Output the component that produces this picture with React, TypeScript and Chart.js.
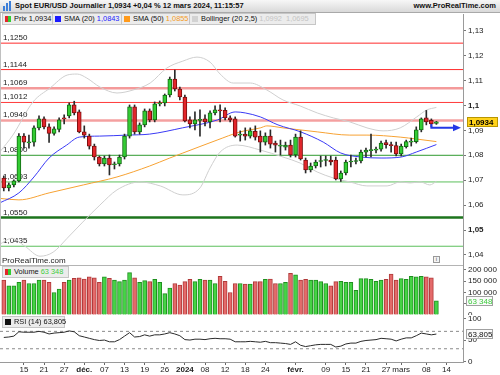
import React, { useEffect, useRef } from "react";
import { Chart, registerables } from "chart.js";
Chart.register(...registerables);

const FONT = '"Liberation Sans", Arial, Helvetica, sans-serif';

// ---- Daily candles, 9 Nov 2023 .. 12 Mar 2024 (index = trading day) ----
const opens = [1.0709,1.0669,1.0681,1.0697,1.0877,1.0850,1.0853,1.0910,1.0946,1.0914,1.0888,1.0904,1.0950,1.0958,1.1002,1.0974,1.0894,1.0877,1.0837,1.0793,1.0765,1.0789,1.0762,1.0765,1.0793,1.0877,1.0994,1.0894,1.0922,1.0978,1.0942,1.1006,1.1010,1.1042,1.1106,1.1066,1.1034,1.0942,1.0926,1.0940,1.0946,1.0934,1.0970,1.0982,1.0980,1.0950,1.0946,1.0881,1.0885,1.0877,1.0896,1.0877,1.0853,1.0877,1.0849,1.0837,1.0833,1.0841,1.0801,1.0873,1.0781,1.0741,1.0757,1.0775,1.0779,1.0781,1.0781,1.0705,1.0729,1.0773,1.0775,1.0777,1.0813,1.0819,1.0821,1.0825,1.0851,1.0843,1.0839,1.0805,1.0835,1.0853,1.0855,1.0902,1.0950,1.0940,1.0928];
const highs = [1.0717,1.0689,1.0701,1.0887,1.0887,1.0881,1.0918,1.0958,1.0954,1.0926,1.0914,1.0950,1.0962,1.1010,1.1017,1.0982,1.0918,1.0885,1.0845,1.0797,1.0797,1.0801,1.0773,1.0801,1.0885,1.1002,1.1002,1.0930,1.0986,1.0986,1.1014,1.1018,1.1046,1.1114,1.1142,1.1074,1.1042,1.0954,1.0974,1.0982,1.0962,1.0978,1.0998,1.1002,1.0990,1.0958,1.0954,1.0898,1.0910,1.0910,1.0918,1.0898,1.0890,1.0902,1.0857,1.0861,1.0853,1.0861,1.0885,1.0898,1.0789,1.0769,1.0781,1.0797,1.0797,1.0797,1.0793,1.0737,1.0781,1.0801,1.0789,1.0821,1.0829,1.0885,1.0833,1.0857,1.0861,1.0853,1.0853,1.0845,1.0861,1.0869,1.0914,1.0950,1.0980,1.0946,1.0936];
const lows = [1.0657,1.0657,1.0673,1.0693,1.0829,1.0829,1.0837,1.0902,1.0906,1.0852,1.0881,1.0894,1.0926,1.0950,1.0962,1.0890,1.0869,1.0825,1.0781,1.0757,1.0757,1.0721,1.0745,1.0757,1.0785,1.0869,1.0885,1.0885,1.0914,1.0934,1.0934,1.0998,1.0998,1.1034,1.1058,1.1022,1.0934,1.0910,1.0902,1.0877,1.0918,1.0910,1.0962,1.0934,1.0942,1.0934,1.0873,1.0857,1.0861,1.0869,1.0861,1.0813,1.0841,1.0829,1.0813,1.0801,1.0821,1.0793,1.0793,1.0781,1.0729,1.0733,1.0749,1.0753,1.0757,1.0761,1.0701,1.0695,1.0721,1.0753,1.0765,1.0769,1.0793,1.0793,1.0809,1.0817,1.0829,1.0813,1.0797,1.0797,1.0829,1.0837,1.0849,1.0894,1.0922,1.0914,1.0924];
const closes = [1.0669,1.0681,1.0697,1.0877,1.0853,1.0854,1.0910,1.0946,1.0914,1.0888,1.0906,1.0942,1.0946,1.1002,1.0970,1.0894,1.0881,1.0837,1.0793,1.0765,1.0789,1.0761,1.0765,1.0793,1.0877,1.0994,1.0894,1.0922,1.0978,1.0942,1.1006,1.1010,1.1042,1.1106,1.1066,1.1034,1.0938,1.0926,1.0942,1.0944,1.0934,1.0970,1.0982,1.0978,1.0950,1.0942,1.0877,1.0883,1.0877,1.0898,1.0873,1.0853,1.0877,1.0845,1.0841,1.0839,1.0841,1.0801,1.0873,1.0785,1.0741,1.0757,1.0773,1.0777,1.0781,1.0773,1.0705,1.0729,1.0773,1.0775,1.0777,1.0813,1.0821,1.0821,1.0823,1.0849,1.0843,1.0839,1.0805,1.0837,1.0855,1.0855,1.0902,1.0946,1.0934,1.0926,1.0934];

const volumes = [155000,130000,130000,145000,155000,140000,140000,155000,155000,145000,100000,115000,145000,155000,163000,165000,160000,170000,165000,145000,170000,163000,155000,148000,155000,188000,165000,145000,153000,148000,158000,145000,95000,120000,140000,133000,148000,158000,148000,158000,155000,155000,140000,172000,150000,100000,140000,140000,137000,137000,148000,148000,158000,160000,140000,140000,145000,185000,178000,155000,158000,155000,155000,148000,140000,130000,148000,150000,145000,145000,110000,162000,162000,158000,150000,155000,158000,182000,155000,162000,158000,172000,170000,172000,170000,165000,63348];

const rsi = [56,57,59,69,68,68,68,70,68,64,66,67,68,71,69,60,57,54,51,49,50,46,46,51,59,67,57,58,62,59,62,62,64,67,64,60,51,50,52,52,51,53,54,53,53,52,46,46,46,47,46,45,47,44,44,43,42,40,46,38,35,37,39,40,40,40,34,36,41,43,43,47,49,50,51,54,53,52,48,52,55,55,60,66,64,62,63.805];

// ---- Indicators (day index, value) ----
const sma20Idx = [-0.8,3,6,9,12.5,15,19,24.5,29,35.5,42.5,46,48,51,54.5,59,63.5,67,71,75,79,82,86];
const sma20Val = [1.0609,1.0649,1.0713,1.0789,1.0841,1.0873,1.0877,1.0881,1.0885,1.0910,1.0942,1.0974,1.0970,1.0954,1.0922,1.0894,1.0853,1.0809,1.0793,1.0789,1.0793,1.0813,1.0843];
const sma50Idx = [-0.8,3,9,15.8,22.5,29,33,35.6,42.4,47,51,52.3,55.5,62.3,68.8,72.2,78.8,82.1,86];
const sma50Val = [1.0627,1.0621,1.0649,1.0681,1.0713,1.0757,1.0789,1.0809,1.0861,1.0894,1.0910,1.0918,1.0910,1.0894,1.0881,1.0881,1.0873,1.0865,1.0855];
const bollUpIdx = [-0.8,1.8,5.8,9.2,12.6,14.6,16.5,19.1,22.5,25.7,29.1,32.4,35.6,38.4,41,43,45.6,49,52.3,55.5,58.9,62.3,65.5,68.8,72.2,75.4,78.8,82.1,84.1,86];
const bollUpVal = [1.0813,1.0881,1.1014,1.1070,1.1122,1.1126,1.1110,1.1074,1.1050,1.1062,1.1090,1.1150,1.1178,1.1194,1.1174,1.1126,1.1090,1.1090,1.1062,1.1022,1.0998,1.0970,1.0950,1.0934,1.0910,1.0898,1.0910,1.0954,1.0982,1.0992];
const bollLoIdx = [-0.8,1.6,4.2,7.2,9.8,12.6,15.7,19.1,22.5,27.1,31.1,35.6,39,41,43,46.4,51,55.5,58.9,62.3,65.5,68.8,72.2,76.2,78.8,80.8,82.8,84.7,86];
const bollLoVal = [1.0443,1.0467,1.0435,1.0395,1.0411,1.0467,1.0532,1.0600,1.0661,1.0693,1.0677,1.0641,1.0669,1.0749,1.0813,1.0841,1.0821,1.0793,1.0769,1.0733,1.0709,1.0693,1.0677,1.0677,1.0693,1.0689,1.0693,1.0681,1.0695];

// ---- Horizontal support / resistance levels ----
const levels = [1.125,1.1144,1.1069,1.1012,1.094,1.08,1.0693,1.055,1.0435];
const levelLabels = ["1,1250","1,1144","1,1069","1,1012","1,0940","1,0800","1,0693","1,0550","1,0435"];
const levelColors = ["#ff2b2b","#ff2b2b","#f49a9a","#ff3a3a","#f4a0a0","#2f9a2f","#5cbf5c","#1d741d","#5cbf5c"];
const levelWidths = [1,1,2.5,1,2.5,1,1,2.5,1];

// projection arrow (day index, price)
const arrowIdx = [85,85,89.3];
const arrowPrice = [1.0930,1.0911,1.0911];

// ---- Axis ticks ----
const priceTicks = [1.04,1.05,1.06,1.07,1.08,1.09,1.1,1.11,1.12,1.13];
const volTicks = [0,50000,100000,150000,200000];
const rsiTicks = [0,50,100];
const rsiBands = [70,30];
const xTickIdx = [4,8,12,16,20,24,28,32,36,40,44,48,52,58,64,68,72,76,79,84,88];
const xTickLabels = ["15","21","27","déc.","07","13","19","26","2024","08","12","18","24","févr.","09","15","21","27","mars","08","14"];
const xBold = ["déc.","2024","févr."];

const X_MIN = -0.755;
const X_MAX = 91.29;
const GREEN = "#33cc33", GREEN_D = "#126b12";
const RED = "#e3262b", RED_D = "#7d0f0f";

const n = closes.length;
const idx = closes.map((_, i) => i);
const up = idx.map(i => closes[i] >= opens[i]);

const xScale = (display: boolean): any => ({
  type: "linear", min: X_MIN, max: X_MAX, offset: false, display,
});

const rightAxis = (extra: any): any => ({
  position: "right",
  beginAtZero: false,
  border: { display: true, color: "#9a9a9a", width: 1 },
  grid: { display: true, drawOnChartArea: false, drawTicks: true, tickLength: 3, color: "#777" },
  afterFit: (s: any) => { s.width = 37; s.paddingTop = 0; s.paddingBottom = 0; },
  ...extra,
});

const fmtThousands = (v: number) => Math.round(v).toString().replace(/\B(?=(\d{3})+(?!\d))/g, "\u00a0");
const fmtPriceTick = (v: number) => { let s = Number(v).toFixed(2); if (s.endsWith("0")) s = s.slice(0, -1); return s.replace(".", ","); };

function drawBadge(ctx: CanvasRenderingContext2D, x: number, y: number, w: number, text: string, bg: string, border: string, color: string, bold: boolean) {
  ctx.save();
  ctx.fillStyle = bg;
  ctx.fillRect(x, Math.round(y) - 5, w, 10);
  ctx.strokeStyle = border;
  ctx.lineWidth = 1;
  ctx.strokeRect(x + 0.5, Math.round(y) - 4.5, w - 1, 9);
  ctx.fillStyle = color;
  ctx.font = `${bold ? "bold " : ""}8px ${FONT}`;
  ctx.textBaseline = "middle";
  ctx.textAlign = "left";
  ctx.fillText(text, x + 2, Math.round(y) + 0.5);
  ctx.restore();
}

function priceConfig(): any {
  const plugin = {
    id: "priceDecor",
    beforeDatasetsDraw(chart: any) {
      const { ctx, scales: { y } } = chart;
      ctx.save();
      ctx.font = `8px ${FONT}`;
      ctx.fillStyle = "#1a1a1a";
      ctx.textBaseline = "bottom";
      ctx.textAlign = "left";
      levels.forEach((L, k) => ctx.fillText(levelLabels[k], 3, Math.round(y.getPixelForValue(L)) - 1));
      ctx.restore();
    },
    afterDraw(chart: any) {
      const { ctx, scales: { x, y } } = chart;
      const ax = x.getPixelForValue(arrowIdx[arrowIdx.length - 1]);
      const ay = y.getPixelForValue(arrowPrice[arrowPrice.length - 1]);
      ctx.save();
      ctx.fillStyle = "#2438e6";
      ctx.beginPath();
      ctx.moveTo(ax + 8, ay);
      ctx.lineTo(ax, ay - 3.5);
      ctx.lineTo(ax, ay + 3.5);
      ctx.closePath();
      ctx.fill();
      ctx.restore();
      const last = closes[n - 1];
      drawBadge(ctx, 467, y.getPixelForValue(last), 31, last.toFixed(4).replace(".", ","), "#ffd21a", "#b89600", "#000", true);
    },
  };
  const lineDs = (xs: number[], ys: number[], color: string, width: number, order: number) => ({
    type: "line",
    data: xs.map((v, k) => ({ x: v, y: ys[k] })),
    borderColor: color, borderWidth: width, pointRadius: 0,
    cubicInterpolationMode: "monotone", order,
  });
  return {
    type: "bar",
    data: {
      datasets: [
        {
          type: "bar", grouped: false, order: 0,
          data: idx.map(i => ({ x: i, y: [opens[i], closes[i]] })),
          backgroundColor: idx.map(i => (up[i] ? GREEN : RED)),
          borderColor: idx.map(i => (up[i] ? GREEN_D : RED_D)),
          borderWidth: 1, borderSkipped: false, barThickness: 4, minBarLength: 1,
        },
        {
          type: "bar", grouped: false, order: 1,
          data: idx.map(i => ({ x: i, y: [lows[i], highs[i]] })),
          backgroundColor: "#2a2a2a", barThickness: 1,
        },
        lineDs(sma20Idx, sma20Val, "#3a3af5", 1, 2),
        lineDs(sma50Idx, sma50Val, "#f7a233", 1, 3),
        lineDs(bollUpIdx, bollUpVal, "#cfcfcf", 1, 4),
        lineDs(bollLoIdx, bollLoVal, "#cfcfcf", 1, 4),
        { ...lineDs(arrowIdx, arrowPrice, "#2438e6", 2, 0), cubicInterpolationMode: "default", tension: 0 },
        ...levels.map((L, k) => ({
          type: "line",
          data: [{ x: X_MIN, y: L }, { x: X_MAX, y: L }],
          borderColor: levelColors[k], borderWidth: levelWidths[k], pointRadius: 0, order: 10,
        })),
      ],
    },
    options: {
      responsive: false, animation: false, devicePixelRatio: 1,
      layout: { padding: 0 },
      plugins: { legend: { display: false }, tooltip: { enabled: false } },
      scales: {
        x: xScale(false),
        y: rightAxis({
          min: 1.03597, max: 1.1367,
          afterBuildTicks: (s: any) => { s.ticks = priceTicks.map(v => ({ value: v })); },
          ticks: {
            color: "#222", padding: 2, autoSkip: false,
            callback: (v: any) => fmtPriceTick(v),
            font: (c: any) => ({ family: FONT, size: 8, weight: c.tick && Math.round(c.tick.value * 1000) % 50 === 0 ? "bold" : "normal" }),
          },
        }),
      },
    },
    plugins: [plugin],
  };
}

function volConfig(): any {
  const plugin = {
    id: "volDecor",
    afterDraw(chart: any) {
      const { ctx, scales: { y } } = chart;
      const last = volumes[n - 1];
      drawBadge(ctx, 466, y.getPixelForValue(last), 27, fmtThousands(last), "#fafafa", "#a0a0a0", "#3ccc3c", false);
    },
  };
  return {
    type: "bar",
    data: {
      datasets: [{
        data: idx.map(i => ({ x: i, y: volumes[i] })),
        backgroundColor: idx.map(i => (up[i] ? "#45d445" : "#e46a6a")),
        borderColor: idx.map(i => (up[i] ? "#1f8f1f" : "#b03a3a")),
        borderWidth: 1, borderSkipped: "bottom", barThickness: 4, grouped: false,
      }],
    },
    options: {
      responsive: false, animation: false, devicePixelRatio: 1,
      layout: { padding: 0 },
      plugins: { legend: { display: false }, tooltip: { enabled: false } },
      scales: {
        x: xScale(false),
        y: rightAxis({
          min: 0, max: 222222,
          afterBuildTicks: (s: any) => { s.ticks = volTicks.map(v => ({ value: v })); },
          ticks: { color: "#222", padding: 2, autoSkip: false, callback: (v: any) => fmtThousands(v), font: { family: FONT, size: 8 } },
        }),
      },
    },
    plugins: [plugin],
  };
}

function rsiConfig(): any {
  const plugin = {
    id: "rsiDecor",
    afterDraw(chart: any) {
      const { ctx, scales: { y } } = chart;
      const last = rsi[n - 1];
      drawBadge(ctx, 466, y.getPixelForValue(last), 27, last.toFixed(3).replace(".", ","), "#fafafa", "#a0a0a0", "#111", false);
    },
  };
  return {
    type: "line",
    data: {
      datasets: [
        {
          data: idx.map(i => ({ x: i, y: rsi[i] })),
          borderColor: "#2b2b2b", borderWidth: 1, pointRadius: 0, tension: 0, order: 0,
        },
        ...rsiBands.map(b => ({
          data: [{ x: X_MIN, y: b }, { x: X_MAX, y: b }],
          borderColor: "#8a8a8a", borderWidth: 1, borderDash: [3, 3], pointRadius: 0, order: 1,
        })),
      ],
    },
    options: {
      responsive: false, animation: false, devicePixelRatio: 1,
      layout: { padding: 0 },
      plugins: { legend: { display: false }, tooltip: { enabled: false } },
      scales: {
        x: {
          ...xScale(true),
          border: { display: true, color: "#9a9a9a" },
          grid: { display: true, drawOnChartArea: false, drawTicks: true, tickLength: 3, color: "#666" },
          afterBuildTicks: (s: any) => { s.ticks = xTickIdx.map(v => ({ value: v })); },
          afterFit: (s: any) => { s.height = 13; s.paddingLeft = 0; s.paddingRight = 0; },
          ticks: {
            autoSkip: false, maxRotation: 0, padding: 0, color: "#222",
            callback: (v: any) => { const k = xTickIdx.indexOf(v); return k >= 0 ? xTickLabels[k] : ""; },
            font: (c: any) => {
              const k = c.tick ? xTickIdx.indexOf(c.tick.value) : -1;
              return { family: FONT, size: 8, weight: k >= 0 && xBold.includes(xTickLabels[k]) ? "bold" : "normal" };
            },
          },
        },
        y: rightAxis({
          min: -0.46, max: 107.6,
          afterBuildTicks: (s: any) => { s.ticks = rsiTicks.map(v => ({ value: v })); },
          ticks: { color: "#222", padding: 2, autoSkip: false, font: { family: FONT, size: 8 } },
        }),
      },
    },
    plugins: [plugin],
  };
}

const legendBox = (left: number, top: number, width: number): React.CSSProperties => ({
  position: "absolute", left, top, width, height: 12, boxSizing: "border-box",
  background: "#ececec", border: "1px solid #c6c6c6", fontSize: 7.4, lineHeight: "10px",
  whiteSpace: "nowrap", color: "#111",
});
const swatch = (bg: string): React.CSSProperties => ({
  position: "absolute", left: 2, top: 2, width: 6, height: 6, background: bg,
});

export default function App() {
  const priceRef = useRef<HTMLCanvasElement>(null);
  const volRef = useRef<HTMLCanvasElement>(null);
  const rsiRef = useRef<HTMLCanvasElement>(null);

  useEffect(() => {
    const charts = [
      new Chart(priceRef.current as HTMLCanvasElement, priceConfig()),
      new Chart(volRef.current as HTMLCanvasElement, volConfig()),
      new Chart(rsiRef.current as HTMLCanvasElement, rsiConfig()),
    ];
    return () => charts.forEach(c => c.destroy());
  }, []);

  const txt = (left: number): React.CSSProperties => ({ position: "absolute", left, top: 0 });

  return (
    <div style={{ position: "fixed", left: 0, top: 0, width: 500, height: 375, background: "#fff", overflow: "hidden", fontFamily: FONT }}>
      <canvas ref={priceRef} width={500} height={251} style={{ position: "absolute", left: 0, top: 14 }} />
      <canvas ref={volRef} width={500} height={50} style={{ position: "absolute", left: 0, top: 265 }} />
      <canvas ref={rsiRef} width={500} height={60} style={{ position: "absolute", left: 0, top: 315 }} />

      {/* frame lines */}
      <div style={{ position: "absolute", left: 0, top: 13, width: 1, height: 252, background: "#c0c0c0" }} />
      <div style={{ position: "absolute", left: 0, top: 265, width: 463, height: 1, background: "#b4b4b4" }} />

      {/* header */}
      <div style={{ position: "absolute", left: 0, top: 0, width: 500, height: 13, boxSizing: "border-box", background: "linear-gradient(#f7f7f7,#d9d9d9)", borderBottom: "1px solid #a9a9a9" }}>
        <div style={{ position: "absolute", left: 3, top: 6, width: 2, height: 5, background: "#3d7fd9" }} />
        <div style={{ position: "absolute", left: 6, top: 3, width: 2, height: 8, background: "#3d7fd9" }} />
        <div style={{ position: "absolute", left: 9, top: 1, width: 2, height: 10, background: "#3d7fd9" }} />
        <span style={{ position: "absolute", left: 15, top: 0, lineHeight: "12px", fontSize: 7.5, fontWeight: "bold", color: "#111", whiteSpace: "nowrap" }}>
          Spot EUR/USD Journalier 1,0934 +0,04 % 12 mars 2024, 11:15:57
        </span>
        <span style={{ position: "absolute", right: 4, top: 0, lineHeight: "12px", fontSize: 7.5, fontWeight: "bold", color: "#111", whiteSpace: "nowrap" }}>
          www.ProRealTime.com
        </span>
      </div>

      {/* price legend */}
      <div style={legendBox(2, 13, 51)}>
        <div style={{ ...swatch(RED), width: 3 }} />
        <div style={{ ...swatch(GREEN), left: 5, width: 3 }} />
        <span style={txt(11)}>Prix 1,0934</span>
      </div>
      <div style={legendBox(52, 13, 70)}>
        <div style={swatch("#1a1aff")} />
        <span style={txt(11)}>SMA (20) <span style={{ color: "#2222ff" }}>1,0843</span></span>
      </div>
      <div style={legendBox(121, 13, 69)}>
        <div style={swatch("#ff9a1a")} />
        <span style={txt(11)}>SMA (50) <span style={{ color: "#f39a1e" }}>1,0855</span></span>
      </div>
      <div style={legendBox(189, 13, 127)}>
        <div style={swatch("#d2d2d2")} />
        <span style={txt(11)}>Bollinger (20 2,5) <span style={{ color: "#c4c4c4" }}>1,0992&nbsp;&nbsp;1,0695</span></span>
      </div>

      {/* price panel footer */}
      <span style={{ position: "absolute", left: 2, top: 256, fontSize: 8, lineHeight: "9px", color: "#222" }}>ProRealTime.com</span>
      <div style={{ position: "absolute", left: 433, top: 256, width: 7, height: 7, boxSizing: "border-box", border: "1px solid #999", background: "#f4f4f4", fontSize: 6, lineHeight: "5px", textAlign: "center", color: "#555" }}>i</div>

      {/* volume legend */}
      <div style={legendBox(2, 266, 67)}>
        <div style={{ ...swatch(RED), width: 3 }} />
        <div style={{ ...swatch(GREEN), left: 5, width: 3 }} />
        <span style={txt(11)}>Volume <span style={{ color: "#3ccc3c" }}>63 348</span></span>
      </div>

      {/* RSI legend */}
      <div style={legendBox(2, 316, 63)}>
        <div style={swatch("#111")} />
        <span style={txt(11)}>RSI (14) 63,805</span>
      </div>
    </div>
  );
}
